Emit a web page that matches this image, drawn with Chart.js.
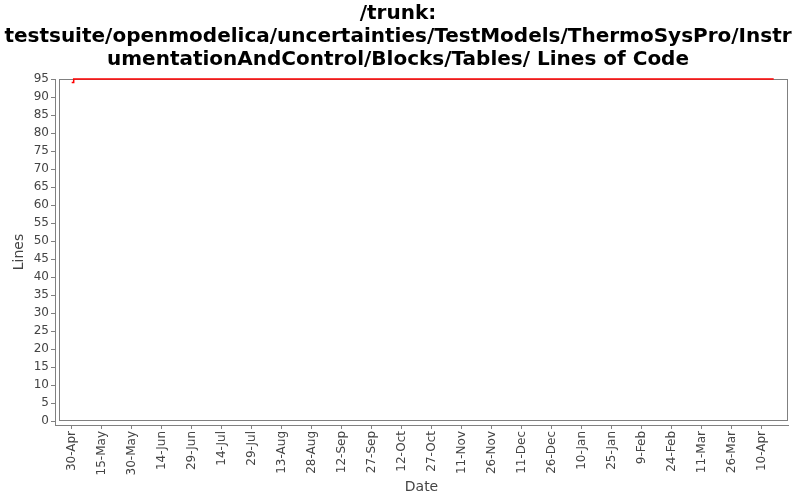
<!DOCTYPE html>
<html>
<head>
<meta charset="utf-8">
<script src="https://cdn.jsdelivr.net/npm/chart.js@4/dist/chart.umd.min.js"></script>
<style>
  html, body { margin: 0; padding: 0; background: #fff; }
</style>
</head>
<body>
<canvas id="locChart" width="800" height="500"></canvas>
<script>
// dates of the samples and the line counts
const dates = ['2008-04-30', '2008-05-01', '2009-04-16'];
const lineCounts = [94, 95, 95];

// x tick labels, one every 15 days starting at the first date
const tickLabels = ['30-Apr', '15-May', '30-May', '14-Jun', '29-Jun', '14-Jul', '29-Jul',
    '13-Aug', '28-Aug', '12-Sep', '27-Sep', '12-Oct', '27-Oct', '11-Nov', '26-Nov',
    '11-Dec', '26-Dec', '10-Jan', '25-Jan', '9-Feb', '24-Feb', '11-Mar', '26-Mar', '10-Apr'];
const yTicks = [0, 5, 10, 15, 20, 25, 30, 35, 40, 45, 50, 55, 60, 65, 70, 75, 80, 85, 90, 95];

const titleLines = [
    '/trunk:',
    'testsuite/openmodelica/uncertainties/TestModels/ThermoSysPro/Instr',
    'umentationAndControl/Blocks/Tables/ Lines of Code'
];

const DAY = 86400000;
const start = Date.parse(dates[0]);
const toDay = (d) => (Date.parse(d) - start) / DAY;

const points = dates.map((d, i) => ({ x: toDay(d), y: lineCounts[i] }));

const font = 'DejaVu Sans';
const AXIS_GAP = 4; // axes sit a few px off the plot box

// white background + title drawn by hand so long lines are not squeezed
const bgAndTitle = {
    id: 'bgAndTitle',
    beforeDraw(chart) {
        const ctx = chart.ctx;
        ctx.save();
        ctx.fillStyle = '#fff';
        ctx.fillRect(0, 0, chart.width, chart.height);
        ctx.fillStyle = '#000';
        ctx.font = 'bold 20px "' + font + '"';
        ctx.textAlign = 'center';
        ctx.textBaseline = 'middle';
        titleLines.forEach((t, i) => ctx.fillText(t, chart.width / 2 - 2, 14 + i * 23));
        ctx.restore();
    }
};

// gray outline round the plot area, inset from the axis lines
const plotBox = {
    id: 'plotBox',
    beforeDatasetsDraw(chart) {
        const { ctx, chartArea: a } = chart;
        ctx.save();
        ctx.strokeStyle = '#808080';
        ctx.lineWidth = 1;
        const l = a.left + AXIS_GAP, b = a.bottom - AXIS_GAP;
        ctx.strokeRect(l + 0.5, a.top + 0.5, a.right - l - 1, b - a.top - 1);
        ctx.restore();
    }
};

new Chart(document.getElementById('locChart').getContext('2d'), {
    type: 'line',
    data: {
        datasets: [{
            label: 'Lines',
            data: points,
            borderColor: '#ff0000',
            borderWidth: 1.5,
            pointRadius: 0,
            stepped: 'before',
            clip: false
        }]
    },
    options: {
        responsive: false,
        animation: false,
        layout: { padding: { left: 0, right: 12, top: 79, bottom: 0 } },
        plugins: {
            legend: { display: false },
            tooltip: { enabled: false },
            title: { display: false }
        },
        scales: {
            x: {
                type: 'linear',
                min: -8.35,
                max: 358.15,
                afterBuildTicks: (scale) => {
                    scale.ticks = tickLabels.map((_, i) => ({ value: i * 15 }));
                },
                afterFit: (scale) => { scale.height = 75; },
                ticks: {
                    autoSkip: false,
                    maxRotation: 90,
                    minRotation: 90,
                    color: '#444',
                    padding: 2,
                    font: { family: font, size: 12 },
                    callback: (v) => tickLabels[Math.round(v / 15)]
                },
                grid: { drawOnChartArea: false, tickLength: 4, color: '#808080' },
                border: { color: '#808080' },
                title: {
                    display: true,
                    text: 'Date',
                    color: '#444',
                    padding: { top: 2, bottom: 4 },
                    font: { family: font, size: 14 }
                }
            },
            y: {
                min: -1.11,
                max: 95,
                afterBuildTicks: (scale) => {
                    scale.ticks = yTicks.map((v) => ({ value: v }));
                },
                afterFit: (scale) => { scale.width = 55; },
                ticks: {
                    color: '#444',
                    padding: 2,
                    font: { family: font, size: 12 }
                },
                grid: { drawOnChartArea: false, tickLength: 4, color: '#808080' },
                border: { color: '#808080' },
                title: {
                    display: true,
                    text: 'Lines',
                    color: '#444',
                    padding: { top: 11, bottom: 4 },
                    font: { family: font, size: 14 }
                }
            }
        }
    },
    plugins: [bgAndTitle, plotBox]
});
</script>
</body>
</html>
